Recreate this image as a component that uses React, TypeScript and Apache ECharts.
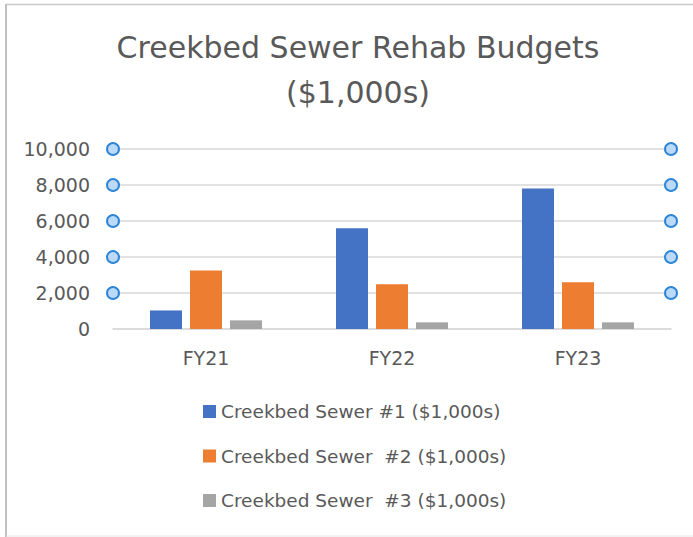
import React, { useEffect, useRef } from "react";
import * as echarts from "echarts";

const categories = ["FY21", "FY22", "FY23"];
const sewer1 = [1030, 5600, 7800];
const sewer2 = [3250, 2480, 2600];
const sewer3 = [480, 370, 370];
const seriesNames = [
  "Creekbed Sewer #1 ($1,000s)",
  "Creekbed Sewer  #2 ($1,000s)",
  "Creekbed Sewer  #3 ($1,000s)",
];
const handleLevels = [2000, 4000, 6000, 8000, 10000];

const TEXT = "#595959";
const FONT = "DejaVu Sans";

export default function App() {
  const ref = useRef<HTMLDivElement>(null);
  useEffect(() => {
    if (!ref.current) return;
    const chart = echarts.init(ref.current, null, { renderer: "svg" });
    const gridLeft = 113;
    const gridRight = 22;
    chart.setOption({
      animation: false,
      backgroundColor: "#ffffff",
      title: {
        text: "Creekbed Sewer Rehab Budgets\n($1,000s)",
        left: 353,
        top: 20,
        textAlign: "center",
        textStyle: {
          color: TEXT,
          fontFamily: FONT,
          fontSize: 30,
          fontWeight: "normal",
          lineHeight: 45,
        },
      },
      legend: {
        orient: "vertical",
        left: 198,
        top: 397,
        itemWidth: 13,
        itemHeight: 13,
        itemGap: 25.5,
        itemGap2: 0,
        icon: "rect",
        textStyle: { color: TEXT, fontFamily: FONT, fontSize: 18.5, lineHeight: 18 },
        data: seriesNames,
      },
      grid: { left: gridLeft, right: gridRight, top: 149, bottom: 208 },
      xAxis: {
        type: "category",
        data: categories,
        axisLine: { show: true, lineStyle: { color: "#D9D9D9", width: 1.5 } },
        axisTick: { show: false },
        axisLabel: { color: TEXT, fontFamily: FONT, fontSize: 19, margin: 19 },
      },
      yAxis: {
        type: "value",
        min: 0,
        max: 10000,
        interval: 2000,
        axisLine: { show: false },
        axisTick: { show: false },
        splitLine: { lineStyle: { color: "#D9D9D9", width: 1.5 } },
        axisLabel: {
          color: TEXT,
          fontFamily: FONT,
          fontSize: 19,
          margin: 23,
          formatter: (v: number) => v.toLocaleString("en-US"),
        },
      },
      series: [
        { name: seriesNames[0], type: "bar", data: sewer1, barWidth: 32, barGap: "25%", itemStyle: { color: "#4472C4" } },
        { name: seriesNames[1], type: "bar", data: sewer2, barWidth: 32, barGap: "25%", itemStyle: { color: "#ED7D31" } },
        { name: seriesNames[2], type: "bar", data: sewer3, barWidth: 32, barGap: "25%", itemStyle: { color: "#A5A5A5" } },
      ],
    });
    const w = chart.getWidth();
    const h = chart.getHeight();
    const xs = [gridLeft, w - gridRight];
    const circles: any[] = [];
    handleLevels.forEach((lv) => {
      const y = chart.convertToPixel({ yAxisIndex: 0 }, lv) as number;
      xs.forEach((x) => {
        circles.push({
          type: "circle",
          shape: { cx: x, cy: y, r: 6 },
          style: { fill: "#BCD9F7", stroke: "#2F86D9", lineWidth: 2 },
          z: 100,
        });
      });
    });
    chart.setOption({
      graphic: [
        ...circles,
        { type: "line", shape: { x1: 6, y1: 4.5, x2: w, y2: 4.5 }, style: { stroke: "#C8C8C8", lineWidth: 1.5 } },
        { type: "line", shape: { x1: 6, y1: 4, x2: 6, y2: h }, style: { stroke: "#C0C0C0", lineWidth: 2 } },
        { type: "line", shape: { x1: 6, y1: h - 1, x2: w, y2: h - 1 }, style: { stroke: "#E6E6E6", lineWidth: 1 } },
      ],
    });
    return () => chart.dispose();
  }, []);
  return (
    <div
      ref={ref}
      style={{ position: "absolute", left: 0, top: 0, width: 693, height: 537 }}
    />
  );
}
